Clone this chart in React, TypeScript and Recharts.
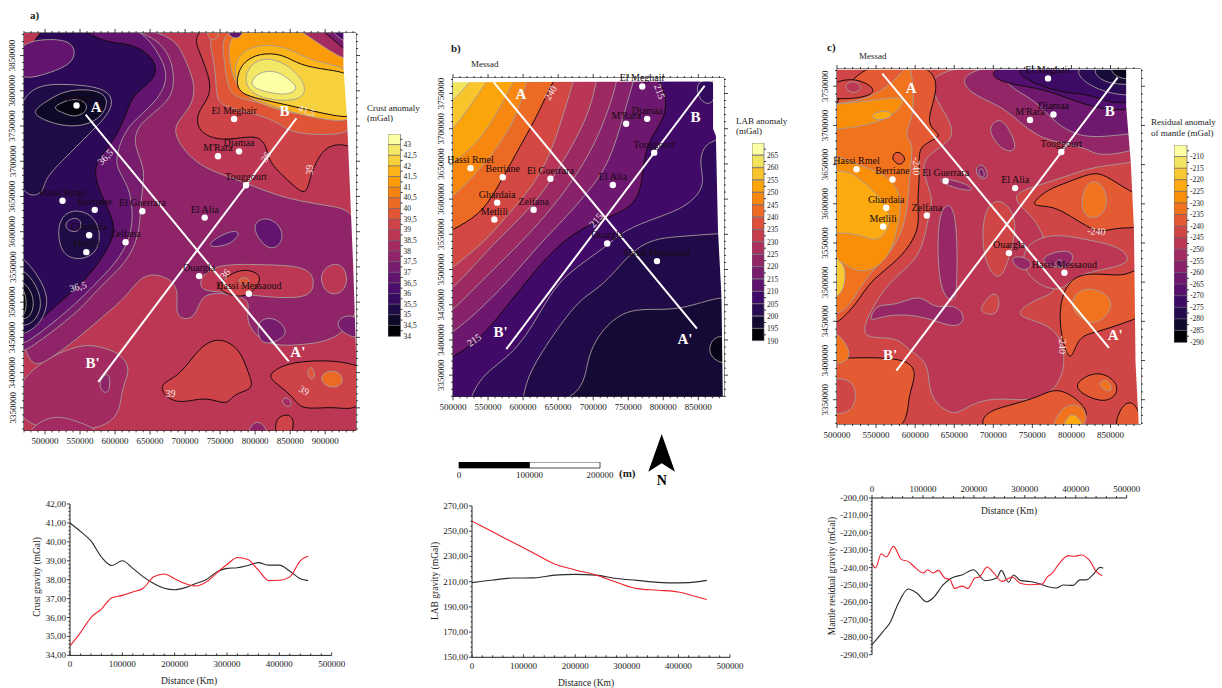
import React from "react";
import { Bar, BarChart, Cell, Line, LineChart, Scatter, ScatterChart, XAxis, YAxis } from "recharts";

type Band = { v: number; edge?: "k" | "g"; sharp?: boolean; pts: number[][] };

const inferno = ["#000004", "#0c0826", "#1b0c41", "#2f0a5b", "#420a68", "#57106e", "#6a176e", "#7f1e6c", "#932667", "#a52c60", "#bc3754", "#cb4149", "#dd513a", "#ea632a", "#f37819", "#f98e09", "#fca50a", "#fbba1f", "#f6d746", "#f2ea69", "#fcffa4"];

const towns = [
  { name: "Messad", x: 545, y: 3779 },
  { name: "El Meghair", x: 770, y: 3760 },
  { name: "Djamaa", x: 777, y: 3714 },
  { name: "M'Rara", x: 747, y: 3707 },
  { name: "Touggourt", x: 787, y: 3666 },
  { name: "Hassi Rmel", x: 525, y: 3644 },
  { name: "Berriane", x: 571, y: 3631 },
  { name: "El Guerrara", x: 639, y: 3629 },
  { name: "El Alia", x: 728, y: 3620 },
  { name: "Ghardaia", x: 563, y: 3595 },
  { name: "Zelfana", x: 615, y: 3585 },
  { name: "Metlili", x: 559, y: 3571 },
  { name: "Ouargla", x: 720, y: 3537 },
  { name: "Hassi Messaoud", x: 791, y: 3512 },
];
const sectionAA = [{ x: 558, y: 3766 }, { x: 848, y: 3416 }];
const sectionBB = [{ x: 859, y: 3761 }, { x: 576, y: 3387 }];

// crust anomaly map, km (UTM), painted back to front
const crustBands: Band[] = [
  { v: 38.5, sharp: true, pts: [[460, 3300], [960, 3300], [960, 3900], [460, 3900]] },
  { v: 38, edge: "g", pts: [[455, 3395], [545, 3442], [579, 3437], [607, 3428], [624, 3404], [607, 3376], [607, 3315], [455, 3315]] },
  { v: 37.5, edge: "g", pts: [[678, 3892], [698, 3849], [717, 3806], [707, 3773], [681, 3750], [693, 3721], [721, 3693], [759, 3679], [797, 3665], [845, 3646], [912, 3636], [955, 3627], [955, 3452], [864, 3438], [812, 3438], [783, 3475], [797, 3504], [759, 3513], [721, 3513], [717, 3475], [683, 3475], [693, 3518], [674, 3537], [640, 3542], [617, 3508], [583, 3480], [545, 3447], [507, 3419], [455, 3390], [455, 3901]] },
  { v: 37, edge: "g", pts: [[664, 3895], [688, 3821], [679, 3783], [631, 3754], [626, 3721], [645, 3688], [636, 3646], [636, 3598], [617, 3556], [579, 3523], [555, 3494], [521, 3466], [470, 3428], [455, 3428], [455, 3900]] },
  { v: 36.5, edge: "g", pts: [[626, 3901], [659, 3859], [679, 3821], [659, 3783], [621, 3754], [607, 3726], [598, 3693], [621, 3665], [626, 3622], [621, 3589], [602, 3556], [569, 3523], [536, 3490], [470, 3438], [455, 3438], [455, 3901]] },
  { v: 35.3, edge: "k", pts: [[545, 3896], [579, 3868], [626, 3868], [659, 3844], [659, 3816], [626, 3797], [617, 3769], [598, 3726], [564, 3693], [583, 3646], [602, 3608], [593, 3580], [564, 3537], [526, 3504], [493, 3475], [470, 3452], [455, 3452], [455, 3901]] },
  { v: 36.5, edge: "g", pts: [[455, 3868], [512, 3875], [543, 3868], [543, 3840], [507, 3825], [455, 3811]] },
  { v: 35, edge: "g", pts: [[455, 3806], [526, 3811], [595, 3804], [598, 3773], [564, 3740], [526, 3702], [498, 3674], [498, 3650], [455, 3650]] },
  { v: 35, edge: "g", pts: [[519, 3584], [531, 3561], [564, 3561], [581, 3584], [574, 3622], [540, 3634], [519, 3617]] },
  { v: 35.3, edge: "g", pts: [[529, 3617], [552, 3622], [552, 3598], [529, 3601]] },
  { v: 35, edge: "g", pts: [[455, 3568], [470, 3563], [493, 3534], [507, 3501], [493, 3468], [470, 3454], [455, 3454]] },
  { v: 34.7, edge: "g", pts: [[455, 3549], [474, 3544], [493, 3515], [495, 3487], [479, 3466], [455, 3466]] },
  { v: 34.4, edge: "g", pts: [[455, 3534], [476, 3525], [486, 3501], [479, 3475], [455, 3475]] },
  { v: 34, edge: "g", pts: [[455, 3525], [471, 3520], [474, 3497], [471, 3480], [455, 3478]] },
  { v: 34.5, edge: "g", pts: [[483, 3773], [507, 3788], [531, 3802], [579, 3802], [593, 3783], [574, 3754], [531, 3747], [488, 3762]] },
  { v: 34.2, edge: "g", pts: [[507, 3776], [538, 3790], [560, 3785], [560, 3769], [540, 3762], [526, 3769]] },
  { v: 34, edge: "k", pts: [[533, 3778], [550, 3785], [552, 3771], [540, 3766]] },
  // warm block, top right
  { v: 39, edge: "k", pts: [[702, 3901], [721, 3854], [738, 3811], [733, 3788], [717, 3769], [717, 3745], [740, 3731], [769, 3731], [807, 3738], [817, 3717], [821, 3698], [838, 3681], [855, 3665], [874, 3650], [879, 3683], [898, 3721], [926, 3726], [955, 3712], [955, 3901]] },
  { v: 39.5, edge: "g", pts: [[726, 3901], [740, 3854], [745, 3806], [745, 3778], [797, 3769], [836, 3754], [850, 3740], [912, 3736], [955, 3745], [955, 3901]] },
  { v: 40, edge: "g", pts: [[750, 3901], [755, 3850], [760, 3808], [769, 3790], [812, 3783], [850, 3768], [926, 3759], [955, 3762], [955, 3901]] },
  { v: 41, edge: "g", pts: [[762, 3901], [762, 3845], [770, 3810], [795, 3785], [850, 3767], [930, 3760], [955, 3760], [955, 3901]] },
  { v: 41.5, edge: "g", pts: [[768, 3815], [773, 3850], [800, 3866], [845, 3864], [880, 3840], [955, 3832], [955, 3755], [900, 3758], [850, 3770], [800, 3786]] },
  { v: 42, edge: "k", pts: [[772, 3811], [780, 3840], [807, 3854], [840, 3852], [864, 3836], [902, 3830], [955, 3822], [955, 3760], [912, 3764], [855, 3778], [812, 3787], [780, 3795]] },
  { v: 42.5, edge: "g", pts: [[783, 3816], [795, 3841], [821, 3848], [852, 3834], [875, 3806], [866, 3786], [825, 3786], [795, 3795]] },
  { v: 43, edge: "g", pts: [[795, 3816], [810, 3829], [835, 3827], [849, 3815], [863, 3804], [847, 3793], [816, 3798], [795, 3805]] },
  { v: 38, edge: "g", pts: [[830, 3905], [878, 3877], [916, 3849], [955, 3835], [955, 3905]] },
  { v: 37, edge: "k", pts: [[868, 3905], [907, 3878], [930, 3855], [955, 3850], [955, 3905]] },
  { v: 36, edge: "g", pts: [[895, 3905], [921, 3868], [955, 3865], [955, 3905]] },
  { v: 36.5, edge: "g", pts: [[757, 3900], [762, 3875], [781, 3873], [786, 3900]] },
  { v: 39.5, edge: "g", pts: [[728, 3900], [733, 3870], [747, 3872], [752, 3900]] },
  // middle and lower patches
  { v: 38.5, edge: "g", pts: [[721, 3535], [745, 3555], [817, 3553], [879, 3551], [886, 3523], [874, 3504], [807, 3508], [759, 3515], [721, 3515]] },
  { v: 39, edge: "k", pts: [[750, 3528], [767, 3542], [788, 3547], [807, 3540], [807, 3526], [788, 3507], [764, 3509], [745, 3521]] },
  { v: 39.5, edge: "g", pts: [[776, 3534], [790, 3536], [793, 3525], [778, 3525]] },
  { v: 38.5, edge: "g", pts: [[890, 3541], [912, 3557], [928, 3550], [933, 3527], [921, 3510], [900, 3512]] },
  { v: 36.5, edge: "g", pts: [[797, 3612], [816, 3622], [838, 3608], [840, 3584], [821, 3572], [802, 3593]] },
  { v: 36.5, edge: "g", pts: [[733, 3584], [762, 3601], [781, 3601], [767, 3582], [738, 3577]] },
  { v: 37, edge: "g", pts: [[802, 3475], [828, 3480], [847, 3460], [838, 3448], [819, 3440], [805, 3445]] },
  { v: 37, edge: "g", pts: [[912, 3470], [931, 3484], [955, 3475], [955, 3447], [931, 3452]] },
  { v: 39, edge: "k", pts: [[664, 3385], [693, 3395], [721, 3438], [750, 3451], [779, 3433], [790, 3400], [800, 3376], [769, 3371], [760, 3352], [731, 3367], [693, 3355], [669, 3367]] },
  { v: 39, edge: "k", pts: [[821, 3400], [850, 3416], [916, 3418], [948, 3409], [955, 3407], [955, 3343], [912, 3353], [864, 3346], [855, 3367], [821, 3390]] },
  { v: 39.5, edge: "g", pts: [[873, 3400], [880, 3412], [887, 3395], [880, 3388]] },
  { v: 40, edge: "g", pts: [[890, 3395], [909, 3405], [926, 3397], [924, 3380], [902, 3378]] },
  { v: 38, edge: "g", pts: [[836, 3360], [845, 3367], [855, 3355], [845, 3350]] },
  { v: 39, edge: "k", pts: [[826, 3336], [850, 3343], [857, 3328], [848, 3300], [831, 3300]] },
  { v: 37.5, edge: "g", pts: [[783, 3300], [797, 3335], [816, 3325], [821, 3300]] },
  { v: 37.5, edge: "g", pts: [[576, 3388], [593, 3405], [593, 3370], [581, 3372]] },
  { v: 38, edge: "g", pts: [[475, 3318], [510, 3342], [550, 3330], [595, 3310], [475, 3300]] },
  // white margin of the gridded area
  { v: 999, sharp: true, pts: [[926, 3890], [926, 3835], [931, 3764], [936, 3646], [940, 3551], [945, 3400], [950, 3310], [960, 3310], [960, 3890]] },
];

const labBands: Band[] = [
  { v: 196, sharp: true, pts: [[460, 3300], [900, 3300], [900, 3790], [460, 3790]] },
  { v: 192, edge: "g", pts: [[864, 3386], [871, 3405], [895, 3407], [895, 3362], [871, 3372]] },
  { v: 198.5, edge: "g", pts: [[470, 3300], [688, 3300], [688, 3376], [719, 3424], [757, 3447], [814, 3440], [871, 3459], [895, 3461], [905, 3461], [905, 3790], [470, 3790]] },
  { v: 201.5, edge: "g", pts: [[470, 3300], [598, 3300], [600, 3320], [609, 3357], [657, 3428], [685, 3461], [719, 3480], [766, 3542], [823, 3547], [878, 3551], [905, 3552], [905, 3790], [470, 3790]] },
  { v: 205, edge: "g", pts: [[470, 3300], [520, 3300], [526, 3320], [543, 3353], [595, 3386], [633, 3457], [662, 3495], [719, 3532], [743, 3556], [795, 3575], [833, 3589], [861, 3618], [851, 3651], [857, 3674], [871, 3684], [905, 3690], [905, 3790], [470, 3790]] },
  { v: 201.5, edge: "g", pts: [[845, 3770], [850, 3740], [871, 3730], [880, 3770]] },
  { v: 213, edge: "k", pts: [[470, 3360], [500, 3376], [538, 3400], [576, 3447], [614, 3495], [652, 3537], [695, 3566], [752, 3584], [769, 3613], [771, 3651], [781, 3688], [804, 3717], [804, 3750], [790, 3774], [785, 3790], [470, 3790]] },
  { v: 218, edge: "g", pts: [[470, 3395], [498, 3409], [533, 3438], [576, 3480], [624, 3537], [662, 3575], [695, 3613], [723, 3651], [743, 3717], [757, 3767], [765, 3790], [470, 3790]] },
  { v: 222, edge: "g", pts: [[470, 3425], [498, 3440], [528, 3471], [576, 3518], [619, 3561], [666, 3618], [704, 3679], [728, 3745], [733, 3767], [738, 3790], [470, 3790]] },
  { v: 227, edge: "g", pts: [[470, 3455], [498, 3469], [557, 3537], [614, 3589], [657, 3651], [695, 3722], [704, 3767], [710, 3790], [470, 3790]] },
  { v: 233, edge: "g", pts: [[470, 3480], [498, 3502], [543, 3537], [576, 3575], [614, 3618], [643, 3670], [671, 3767], [680, 3790], [470, 3790]] },
  { v: 240, edge: "k", pts: [[470, 3540], [498, 3556], [538, 3577], [562, 3613], [590, 3665], [614, 3707], [628, 3736], [643, 3767], [655, 3790], [470, 3790]] },
  { v: 245, edge: "g", pts: [[470, 3580], [498, 3601], [548, 3651], [590, 3712], [605, 3767], [612, 3790], [470, 3790]] },
  { v: 250, edge: "g", pts: [[470, 3630], [498, 3651], [543, 3684], [586, 3767], [600, 3790], [470, 3790]] },
  { v: 255, edge: "g", pts: [[470, 3675], [498, 3693], [548, 3767], [565, 3790], [470, 3790]] },
  { v: 260, edge: "g", pts: [[470, 3715], [498, 3738], [526, 3767], [540, 3790], [470, 3790]] },
  { v: 999, sharp: true, pts: [[460, 3790], [900, 3790], [900, 3310], [885, 3310], [883, 3461], [878, 3556], [875, 3690], [871, 3700], [871, 3767], [460, 3766]] },
];

const mantleBands: Band[] = [
  { v: -245, sharp: true, pts: [[480, 3300], [900, 3300], [900, 3790], [480, 3790]] },
  { v: -250, edge: "g", pts: [[611, 3780], [624, 3737], [641, 3712], [654, 3682], [609, 3661], [611, 3635], [624, 3605], [617, 3584], [611, 3550], [598, 3524], [564, 3499], [534, 3448], [534, 3427], [577, 3431], [590, 3414], [620, 3397], [615, 3354], [649, 3327], [666, 3342], [701, 3354], [752, 3346], [786, 3367], [794, 3410], [777, 3448], [718, 3456], [760, 3482], [786, 3486], [769, 3550], [752, 3584], [718, 3610], [752, 3622], [794, 3635], [829, 3648], [880, 3652], [897, 3661], [900, 3785]] },
  { v: -250, edge: "g", pts: [[743, 3550], [777, 3563], [820, 3554], [863, 3546], [880, 3524], [837, 3516], [803, 3507], [786, 3486], [752, 3499], [735, 3524]] },
  { v: -245, edge: "g", pts: [[686, 3593], [709, 3610], [730, 3584], [726, 3550], [713, 3507], [701, 3505], [686, 3533]] },
  { v: -245, edge: "g", pts: [[684, 3469], [701, 3490], [709, 3478], [705, 3456], [684, 3461]] },
  // north, values fall toward the corner
  { v: -258, edge: "g", pts: [[654, 3780], [662, 3741], [718, 3724], [752, 3682], [820, 3673], [829, 3661], [873, 3665], [897, 3678], [900, 3785]] },
  { v: -265, edge: "g", pts: [[705, 3780], [718, 3748], [752, 3735], [782, 3699], [820, 3682], [873, 3690], [900, 3690], [900, 3785]] },
  { v: -271, edge: "k", pts: [[690, 3780], [700, 3755], [760, 3748], [794, 3735], [837, 3720], [873, 3720], [900, 3720], [900, 3785]] },
  { v: -275, edge: "k", pts: [[725, 3780], [735, 3760], [786, 3741], [820, 3741], [854, 3727], [873, 3731], [900, 3731], [900, 3785]] },
  { v: -279, edge: "g", pts: [[794, 3780], [820, 3750], [858, 3739], [873, 3739], [900, 3739], [900, 3785]] },
  { v: -283, edge: "g", pts: [[820, 3780], [837, 3754], [873, 3752], [900, 3752], [900, 3785]] },
  { v: -287, edge: "g", pts: [[844, 3780], [856, 3761], [873, 3759], [900, 3759], [900, 3785]] },
  { v: -257, edge: "g", pts: [[696, 3699], [709, 3712], [726, 3686], [730, 3665], [709, 3669], [696, 3690]] },
  { v: -257, edge: "g", pts: [[675, 3644], [686, 3654], [696, 3635], [684, 3629]] },
  { v: -262, edge: "g", pts: [[680, 3642], [686, 3647], [690, 3635], [684, 3633]] },
  { v: -257, edge: "g", pts: [[624, 3635], [666, 3627], [679, 3614], [641, 3622]] },
  // violet strips in the centre
  { v: -257, edge: "g", pts: [[632, 3599], [654, 3603], [654, 3486], [649, 3473], [632, 3486], [628, 3548]] },
  { v: -257, edge: "g", pts: [[541, 3452], [551, 3473], [573, 3469], [607, 3486], [624, 3465], [649, 3473], [666, 3456], [654, 3439], [615, 3456], [573, 3460], [547, 3452]] },
  { v: -257, edge: "g", pts: [[760, 3531], [782, 3540], [805, 3540], [799, 3516], [769, 3520]] },
  { v: -257, edge: "g", pts: [[718, 3533], [743, 3533], [752, 3520], [735, 3512]] },
  { v: -262, edge: "g", pts: [[778, 3525], [786, 3531], [792, 3522], [782, 3518]] },
  // west, warm
  { v: -240, edge: "k", pts: [[628, 3785], [628, 3737], [611, 3699], [641, 3686], [602, 3676], [607, 3644], [602, 3601], [607, 3567], [581, 3529], [543, 3503], [526, 3473], [498, 3444], [474, 3440], [474, 3785]] },
  { v: -235, edge: "g", pts: [[594, 3785], [598, 3741], [598, 3712], [585, 3686], [598, 3678], [594, 3652], [590, 3584], [577, 3550], [560, 3529], [534, 3503], [513, 3461], [474, 3450], [474, 3720], [502, 3729], [543, 3733], [581, 3763]] },
  { v: -230, edge: "g", pts: [[474, 3727], [530, 3729], [573, 3737], [590, 3733], [568, 3707], [513, 3695], [474, 3695]] },
  { v: -230, edge: "g", pts: [[474, 3675], [517, 3652], [564, 3639], [585, 3610], [577, 3567], [568, 3533], [543, 3512], [517, 3516], [504, 3529], [474, 3533]] },
  { v: -225, edge: "g", pts: [[474, 3640], [513, 3644], [530, 3631], [555, 3610], [573, 3580], [555, 3550], [534, 3559], [513, 3563], [474, 3563]] },
  { v: -225, edge: "g", pts: [[543, 3716], [568, 3720], [573, 3710], [547, 3705]] },
  { v: -220, edge: "g", pts: [[490, 3535], [502, 3530], [513, 3516], [507, 3482], [490, 3480]] },
  { v: -245, edge: "k", pts: [[480, 3748], [517, 3763], [547, 3750], [547, 3739], [517, 3733], [480, 3735]] },
  { v: -250, edge: "g", pts: [[507, 3750], [520, 3759], [535, 3748], [520, 3739]] },
  { v: -240, edge: "k", pts: [[570, 3660], [577, 3669], [590, 3658], [581, 3648], [573, 3654]] },
  // south
  { v: -240, edge: "k", pts: [[474, 3402], [502, 3403], [594, 3405], [602, 3380], [590, 3354], [590, 3300], [474, 3300]] },
  { v: -245, edge: "g", pts: [[474, 3373], [510, 3380], [526, 3365], [522, 3335], [495, 3330], [474, 3340]] },
  { v: -235, edge: "g", pts: [[474, 3446], [498, 3440], [520, 3410], [510, 3395], [474, 3395]] },
  { v: -240, edge: "k", pts: [[684, 3333], [718, 3342], [760, 3354], [782, 3367], [816, 3346], [829, 3316], [684, 3300]] },
  { v: -235, edge: "g", pts: [[777, 3324], [794, 3346], [816, 3342], [824, 3316], [775, 3300]] },
  { v: -225, edge: "g", pts: [[786, 3310], [799, 3338], [816, 3320], [816, 3300], [786, 3300]] },
  { v: -240, edge: "k", pts: [[803, 3371], [829, 3386], [850, 3380], [863, 3363], [846, 3344], [812, 3357]] },
  { v: -235, edge: "g", pts: [[833, 3371], [846, 3378], [854, 3361], [843, 3361]] },
  { v: -240, edge: "k", pts: [[850, 3300], [863, 3346], [884, 3350], [895, 3300]] },
  // east, warm
  { v: -240, edge: "k", pts: [[752, 3603], [769, 3618], [794, 3627], [824, 3639], [841, 3639], [876, 3614], [895, 3610], [895, 3567], [863, 3571], [837, 3563], [820, 3571], [799, 3584], [777, 3597], [752, 3597]] },
  { v: -235, edge: "g", pts: [[812, 3603], [820, 3631], [841, 3627], [848, 3597], [833, 3580], [816, 3584]] },
  { v: -240, edge: "k", pts: [[784, 3474], [799, 3507], [829, 3512], [867, 3507], [880, 3516], [900, 3516], [900, 3461], [880, 3452], [829, 3435], [808, 3431], [799, 3393], [786, 3431]] },
  { v: -235, edge: "g", pts: [[799, 3478], [816, 3495], [846, 3486], [854, 3469], [837, 3448], [820, 3448], [803, 3461]] },
  { v: 999, sharp: true, pts: [[490, 3771], [870, 3771], [870, 3724], [876, 3652], [880, 3567], [882, 3397], [886, 3320], [886, 3300], [900, 3300], [900, 3790], [490, 3790]] },
];

const crustLevels = [43, 42.5, 42, 41.5, 41, 40.5, 40, 39.5, 39, 38.5, 38, 37.5, 37, 36.5, 36, 35.5, 35, 34.5, 34];
const labLevels = [265, 260, 255, 250, 245, 240, 235, 230, 225, 220, 215, 210, 205, 200, 195, 190];
const mantleLevels = [-210, -215, -220, -225, -230, -235, -240, -245, -250, -255, -260, -265, -270, -275, -280, -285, -290];

const crustNotes = [
  { text: "36,5", x: 586, y: 3706, rot: -45 }, { text: "36,5", x: 547, y: 3522, rot: -15 },
  { text: "41,5", x: 874, y: 3772, rot: 20 }, { text: "39", x: 877, y: 3688, rot: -90 },
  { text: "39", x: 679, y: 3371, rot: 0 }, { text: "39", x: 870, y: 3375, rot: 30 },
  { text: "36", x: 757, y: 3540, rot: -50 }, { text: "36", x: 815, y: 3706, rot: -60 },
];
const labNotes = [
  { text: "240", x: 639, y: 3751, rot: -60 }, { text: "215", x: 795, y: 3753, rot: 70 },
  { text: "215", x: 530, y: 3400, rot: -35 }, { text: "215", x: 704, y: 3570, rot: -50 },
];
const mantleNotes = [
  { text: "-240", x: 602, y: 3648, rot: 90 }, { text: "-240", x: 832, y: 3565, rot: 5 }, { text: "-240", x: 789, y: 3420, rot: 90 },
];
const crustLetters = [{ text: "A", x: 573, y: 3777 }, { text: "B", x: 842, y: 3772 }, { text: "A'", x: 861, y: 3429 }, { text: "B'", x: 568, y: 3414 }];
const labLetters = [{ text: "A", x: 597, y: 3749 }, { text: "B", x: 846, y: 3716 }, { text: "A'", x: 831, y: 3402 }, { text: "B'", x: 568, y: 3412 }];
const mantleLetters = [{ text: "A", x: 595, y: 3748 }, { text: "B", x: 849, y: 3719 }, { text: "A'", x: 856, y: 3433 }, { text: "B'", x: 568, y: 3407 }];

const crustAXs = [0, 20, 40, 60, 80, 100, 120, 140, 160, 180, 200, 220, 240, 260, 280, 300, 320, 340, 360, 380, 400, 420, 440, 455];
const crustAA = [41.0, 40.55, 40.05, 39.2, 38.75, 39.0, 38.6, 38.15, 37.8, 37.55, 37.47, 37.58, 37.8, 38.0, 38.4, 38.6, 38.63, 38.75, 38.9, 38.77, 38.77, 38.45, 38.05, 37.95];
const crustBB = [34.5, 35.2, 36.0, 36.45, 37.05, 37.17, 37.35, 37.55, 38.15, 38.3, 38.05, 37.8, 37.67, 37.87, 38.35, 38.8, 39.17, 39.07, 38.5, 37.95, 37.97, 38.15, 39.0, 39.25];
const labXs = [0, 40, 80, 120, 160, 200, 240, 280, 320, 360, 400, 440, 455];
const labAA = [209.2, 211.3, 212.9, 213, 215.2, 215.8, 215.2, 212.5, 211, 209.4, 209, 210, 211];
const labBB = [258, 249.5, 241, 232.5, 224, 219.3, 215.3, 209.5, 204.5, 203.2, 201.8, 197.5, 195.8];
const mantleAXs = [0, 22, 35, 52, 71, 88, 107, 120, 140, 153, 179, 199, 222, 245, 254, 268, 278, 291, 310, 330, 346, 362, 375, 395, 408, 421, 434, 448, 454];
const mantleAA = [-284.3, -276.6, -271.8, -260.3, -252.3, -254.6, -259.6, -257.4, -249.8, -246.5, -243.9, -241.2, -247.5, -246, -241.6, -248.4, -244.2, -247.3, -248, -249.4, -251, -251.7, -250, -250.2, -247, -247, -244, -239.8, -240.4];
const mantleBXs = [0, 7, 18, 28, 42, 58, 71, 84, 101, 109, 120, 130, 143, 153, 162, 177, 188, 202, 211, 226, 238, 255, 275, 291, 308, 334, 344, 353, 366, 385, 398, 410, 427, 440, 452];
const mantleBB = [-237.7, -240.2, -232, -233.9, -227.8, -235.4, -236.4, -239.8, -243.1, -241.2, -243.1, -241.6, -246, -246.9, -251.9, -250.6, -251.9, -246, -245.4, -239.6, -242.7, -247.9, -245.4, -249, -249.8, -249.4, -245.4, -243.5, -238.3, -233.1, -233.5, -232.7, -235.8, -242.1, -244.6];

const SERIF = "'Liberation Serif', serif";
const INK = "#222";

const range = (from: number, to: number, step: number) => {
  const out: number[] = [];
  for (let v = from; v <= to + step / 100; v += step) out.push(Math.round(v * 100) / 100);
  return out;
};
const pairs = (xs: number[], ys: number[]) => xs.map((d, i) => ({ d: d * 1000, v: ys[i] }));
const noDot = () => <g />;

// colour at position t (0..1) along the colour scale
const ramp = (t: number) => {
  const p = Math.max(0, Math.min(1, t)) * (inferno.length - 1);
  const i = Math.min(inferno.length - 2, Math.floor(p));
  const a = inferno[i];
  const b = inferno[i + 1];
  const ch = (k: number) => Math.round(parseInt(a.slice(k, k + 2), 16) * (1 - (p - i)) + parseInt(b.slice(k, k + 2), 16) * (p - i));
  return `rgb(${ch(1)},${ch(3)},${ch(5)})`;
};

function axisTick(side: "left" | "right" | "top" | "bottom", every: number, label: (v: number) => string, opts: { big?: number; small?: number; gap?: number; rotate?: boolean; size?: number; base?: number } = {}) {
  const { big = 4, small = 2, gap = 11, rotate = false, size = 9, base = 0 } = opts;
  const sx = side === "left" ? -1 : side === "right" ? 1 : 0;
  const sy = side === "top" ? -1 : side === "bottom" ? 1 : 0;
  return (p: any) => {
    const v = p.payload.value;
    const q = (v - base) / every;
    const major = Math.abs(q - Math.round(q)) < 1e-6;
    const len = major ? big : small;
    const text = major ? label(v) : "";
    const tx = p.x + sx * gap;
    const ty = p.y + sy * gap;
    return (
      <g>
        <line x1={p.x} y1={p.y} x2={p.x + sx * len} y2={p.y + sy * len} stroke="#111" strokeWidth={0.8} />
        {text && (
          <text
            x={tx}
            y={ty}
            fontFamily={SERIF}
            fontSize={size}
            fill={INK}
            dominantBaseline="central"
            textAnchor={rotate || sy !== 0 ? "middle" : side === "left" ? "end" : "start"}
            transform={rotate ? `rotate(-90 ${tx} ${ty})` : undefined}
          >
            {text}
          </text>
        )}
      </g>
    );
  };
}

type MapProps = {
  left: number; top: number; right: number; bottom: number;
  xDomain: number[]; yDomain: number[]; xLast: number;
  bands: Band[]; color: (v: number) => string;
  notes: { text: string; x: number; y: number; rot: number }[];
  letters: { text: string; x: number; y: number }[];
};

function MapPanel({ left, top, right, bottom, xDomain, yDomain, xLast, bands, color, notes, letters }: MapProps) {
  const pad = { l: 26, t: 14, r: 10, b: 20 };
  const width = right - left + pad.l + pad.r;
  const height = bottom - top + pad.t + pad.b;
  const firstX = Math.ceil(xDomain[0] / 10) * 10;
  const xTicks = range(firstX, xLast, 10);
  const yTicks = range(Math.ceil(yDomain[0] / 10) * 10, yDomain[1], 10);
  const kmLabel = (v: number) => String(v * 1000);
  const shown = towns.filter((c) => c.y <= yDomain[1]);
  return (
    <div style={{ position: "absolute", left: left - pad.l, top: top - pad.t, width, height }}>
      <div style={{ position: "absolute", left: 0, top: 0 }}>
        <ScatterChart width={width} height={height} margin={{ top: 0, right: 0, bottom: 0, left: 0 }}>
          <XAxis xAxisId={0} type="number" dataKey="x" domain={xDomain} allowDataOverflow ticks={xTicks} interval={0} height={pad.b} tickSize={0} tickMargin={0} tickLine={false} stroke="#111" tick={axisTick("bottom", 50, kmLabel)} />
          <XAxis xAxisId="top" orientation="top" type="number" dataKey="x" domain={xDomain} allowDataOverflow ticks={xTicks} interval={0} height={pad.t} tickSize={0} tickMargin={0} tickLine={false} stroke="#111" tick={axisTick("top", 50, () => "")} />
          <YAxis yAxisId={0} type="number" dataKey="y" domain={yDomain} allowDataOverflow ticks={yTicks} interval={0} width={pad.l} tickSize={0} tickMargin={0} tickLine={false} stroke="#111" tick={axisTick("left", 50, kmLabel, { rotate: true, gap: 11.5 })} />
          <YAxis yAxisId="right" orientation="right" type="number" dataKey="y" domain={yDomain} allowDataOverflow ticks={yTicks} interval={0} width={pad.r} tickSize={0} tickMargin={0} tickLine={false} stroke="#111" tick={axisTick("right", 50, () => "")} />
          {bands.map((b, i) => {
            const fill = b.v === 999 ? "#fff" : color(b.v);
            const stroke = b.edge === "k" ? "#17090f" : b.edge === "g" ? "#a79c9c" : "none";
            return (
              <Scatter
                key={i}
                data={b.pts.map(([x, y]) => ({ x, y }))}
                line={{ stroke, strokeWidth: b.edge === "k" ? 1 : 0.9, fill }}
                lineJointType={b.sharp ? "linearClosed" : "basisClosed"}
                shape={noDot}
                isAnimationActive={false}
              />
            );
          })}
          <Scatter data={sectionAA} line={{ stroke: "#fff", strokeWidth: 2 }} shape={noDot} isAnimationActive={false} />
          <Scatter data={sectionBB} line={{ stroke: "#fff", strokeWidth: 2 }} shape={noDot} isAnimationActive={false} />
        </ScatterChart>
      </div>
      {/* second layer, same frame: town names may run past the clipped map edge */}
      <div style={{ position: "absolute", left: 0, top: 0 }}>
        <ScatterChart width={width} height={height} margin={{ top: pad.t, right: pad.r, bottom: pad.b, left: pad.l }}>
          <XAxis type="number" dataKey="x" domain={xDomain} hide />
          <YAxis type="number" dataKey="y" domain={yDomain} hide />
          <Scatter
            data={shown}
            isAnimationActive={false}
            shape={(p: any) => (
              <g>
                <circle cx={p.cx} cy={p.cy} r={3.2} fill="#fff" />
                <text x={p.cx} y={p.cy - 5} textAnchor="middle" fontFamily={SERIF} fontSize={10} fill="#160a10">{p.payload.name}</text>
              </g>
            )}
          />
          <Scatter
            data={notes}
            isAnimationActive={false}
            shape={(p: any) => (
              <text x={p.cx} y={p.cy} textAnchor="middle" dominantBaseline="central" fontFamily={SERIF} fontSize={10} fill="#f1e6ea" transform={`rotate(${p.payload.rot} ${p.cx} ${p.cy})`}>{p.payload.text}</text>
            )}
          />
          <Scatter
            data={letters}
            isAnimationActive={false}
            shape={(p: any) => (
              <text x={p.cx} y={p.cy} textAnchor="middle" dominantBaseline="central" fontFamily={SERIF} fontWeight="bold" fontSize={15} fill="#fff">{p.payload.text}</text>
            )}
          />
        </ScatterChart>
      </div>
    </div>
  );
}

function ColorBar({ left, top, barWidth, height, levels, color, fmt }: { left: number; top: number; barWidth: number; height: number; levels: number[]; color: (v: number) => string; fmt: (v: number) => string }) {
  const rows = levels.map((v) => ({ label: fmt(v), w: 1, v }));
  const cell = height / rows.length;
  return (
    <div style={{ position: "absolute", left, top }}>
      <BarChart width={barWidth + 30} height={height + 8} layout="vertical" data={rows} barCategoryGap={0} margin={{ top: 0, right: 0, bottom: 8, left: 0 }}>
        <XAxis type="number" hide domain={[0, 1]} />
        <YAxis type="category" dataKey="label" orientation="right" width={30} interval={0} axisLine={false} tickSize={2} tickMargin={1} stroke="#333" tick={{ fontSize: 7.5, fontFamily: SERIF, fill: INK, dy: cell / 2 }} />
        <Bar dataKey="w" isAnimationActive={false} stroke="#6b6570" strokeWidth={0.7}>
          {rows.map((r) => (
            <Cell key={r.label} fill={color(r.v)} />
          ))}
        </Bar>
      </BarChart>
    </div>
  );
}

type ProfileProps = {
  left: number; top: number; width: number; height: number; yDomain: number[]; yStep: number; yMinor: number; xAtTop?: boolean;
  black: { d: number; v: number }[]; red: { d: number; v: number }[];
};

function Profile({ left, top, width, height, yDomain, yStep, yMinor, xAtTop, black, red }: ProfileProps) {
  const yw = 34;
  const xh = 18;
  const air = 8;
  const label = (v: number) => v.toFixed(2).replace(".", ",");
  return (
    <div style={{ position: "absolute", left: left - yw, top: top - (xAtTop ? xh : air) }}>
      <LineChart width={width + yw + 24} height={height + xh + air} margin={{ top: xAtTop ? 0 : air, right: 24, bottom: xAtTop ? air : 0, left: 0 }}>
        <XAxis type="number" dataKey="d" orientation={xAtTop ? "top" : "bottom"} domain={[0, 500000]} ticks={range(0, 500000, 20000)} interval={0} height={xh} tickSize={0} tickMargin={0} tickLine={false} stroke="#222" tick={axisTick(xAtTop ? "top" : "bottom", 100000, (v) => String(v), { gap: 9, big: xAtTop ? 3 : -3, small: xAtTop ? 2 : -2, size: 9 })} />
        <YAxis type="number" domain={yDomain} ticks={range(yDomain[0], yDomain[1], yMinor)} interval={0} width={yw} tickSize={0} tickMargin={0} tickLine={false} stroke="#222" tick={axisTick("left", yStep, label, { gap: 4, big: 3, small: 1.5, size: 9, base: yDomain[0] })} />
        <Line data={black} dataKey="v" type="monotone" stroke="#2a2a2a" strokeWidth={1.1} dot={false} isAnimationActive={false} />
        <Line data={red} dataKey="v" type="monotone" stroke="#f0202c" strokeWidth={1.1} dot={false} isAnimationActive={false} />
      </LineChart>
    </div>
  );
}

const scaleRow = [{ name: "m", first: 100000, second: 100000 }];

function ScaleBar() {
  return (
    <div style={{ position: "absolute", left: 439, top: 461.5 }}>
      <BarChart width={181} height={20} layout="vertical" data={scaleRow} barCategoryGap={0} margin={{ top: 0, right: 20, bottom: 0, left: 20 }}>
        <XAxis type="number" domain={[0, 200000]} ticks={[0, 100000, 200000]} interval={0} height={14} tickSize={0} tickMargin={0} axisLine={false} tickLine={false} tick={axisTick("bottom", 100000, (v) => String(v), { big: 0, gap: 7, size: 9 })} />
        <YAxis type="category" dataKey="name" hide />
        <Bar dataKey="first" stackId="s" fill="#000" stroke="#000" strokeWidth={0.7} isAnimationActive={false} />
        <Bar dataKey="second" stackId="s" fill="#fff" stroke="#000" strokeWidth={0.7} isAnimationActive={false} />
      </BarChart>
    </div>
  );
}

const crustColor = (v: number) => ramp((v - 34) / 9);
const labColor = (v: number) => ramp((v - 190) / 75);
const mantleColor = (v: number) => ramp((v + 290) / 80);
const comma = (v: number) => String(v).replace(".", ",");

export default function App() {
  const t = { fontFamily: SERIF, fill: INK };
  return (
    <div style={{ position: "absolute", left: 0, top: 0, width: 1222, height: 688, background: "#fff", overflow: "hidden" }}>
      <MapPanel left={24} top={33.3} right={356} bottom={430.7} xDomain={[470, 944]} yDomain={[3318, 3882]} xLast={940} bands={crustBands} color={crustColor} notes={crustNotes} letters={crustLetters} />
      <MapPanel left={453.3} top={77.7} right={724.3} bottom={396} xDomain={[500, 886.6]} yDomain={[3320, 3772]} xLast={880} bands={labBands} color={labColor} notes={labNotes} letters={labLetters} />
      <MapPanel left={836.7} top={69.3} right={1140.7} bottom={424.3} xDomain={[500, 889]} yDomain={[3319, 3772]} xLast={880} bands={mantleBands} color={mantleColor} notes={mantleNotes} letters={mantleLetters} />

      <ColorBar left={387.5} top={134} barWidth={12.5} height={202} levels={crustLevels} color={crustColor} fmt={comma} />
      <ColorBar left={751.5} top={142.7} barWidth={12} height={198} levels={labLevels} color={labColor} fmt={comma} />
      <ColorBar left={1174} top={145} barWidth={13} height={197} levels={mantleLevels} color={mantleColor} fmt={comma} />

      <Profile left={70} top={504.3} width={261.7} height={151.4} yDomain={[34, 42]} yStep={1} yMinor={0.2} black={pairs(crustAXs, crustAA)} red={pairs(crustAXs, crustBB)} />
      <Profile left={472} top={506} width={258} height={151.3} yDomain={[150, 270]} yStep={20} yMinor={4} black={pairs(labXs, labAA)} red={pairs(labXs, labBB)} />
      <Profile left={872} top={498.3} width={254.7} height={156.7} yDomain={[-290, -200]} yStep={10} yMinor={2} xAtTop black={pairs(mantleAXs, mantleAA)} red={pairs(mantleBXs, mantleBB)} />

      <ScaleBar />

      <svg width={1222} height={688} style={{ position: "absolute", left: 0, top: 0, pointerEvents: "none" }}>
        <text x={30} y={19} {...t} fontSize={11} fontWeight="bold">a)</text>
        <text x={451} y={52} {...t} fontSize={11} fontWeight="bold">b)</text>
        <text x={827} y={51} {...t} fontSize={11} fontWeight="bold">c)</text>
        <text x={471} y={67} {...t} fontSize={9}>Messad</text>
        <text x={859} y={59} {...t} fontSize={9}>Messad</text>
        <text x={367} y={111} {...t} fontSize={9}>Crust anomaly</text>
        <text x={367} y={121} {...t} fontSize={9}>(mGal)</text>
        <text x={736} y={124} {...t} fontSize={9}>LAB anomaly</text>
        <text x={736} y={134} {...t} fontSize={9}>(mGal)</text>
        <text x={1151} y={125} {...t} fontSize={9}>Residual anomaly</text>
        <text x={1151} y={136} {...t} fontSize={9}>of mantle (mGal)</text>
        <text x={189} y={684} {...t} fontSize={9.5} textAnchor="middle">Distance (Km)</text>
        <text x={586} y={686} {...t} fontSize={9.5} textAnchor="middle">Distance (Km)</text>
        <text x={1009} y={514} {...t} fontSize={9.5} textAnchor="middle">Distance (Km)</text>
        <text transform="translate(40 577) rotate(-90)" {...t} fontSize={9.5} textAnchor="middle">Crust gravity (mGal)</text>
        <text transform="translate(438 581) rotate(-90)" {...t} fontSize={9.5} textAnchor="middle">LAB gravity (mGal)</text>
        <text transform="translate(835 576) rotate(-90)" {...t} fontSize={9.5} textAnchor="middle">Mantle residual gravity (mGal)</text>
        <text x={619} y={477} {...t} fontSize={11} fontWeight="bold">(m)</text>
        <polygon points="661.7,434 648.3,471.7 661.7,463.3 675,471.7" fill="#000" />
        <text x={661.7} y={485} {...t} fill="#000" fontSize={14} fontWeight="bold" textAnchor="middle">N</text>
      </svg>
    </div>
  );
}
